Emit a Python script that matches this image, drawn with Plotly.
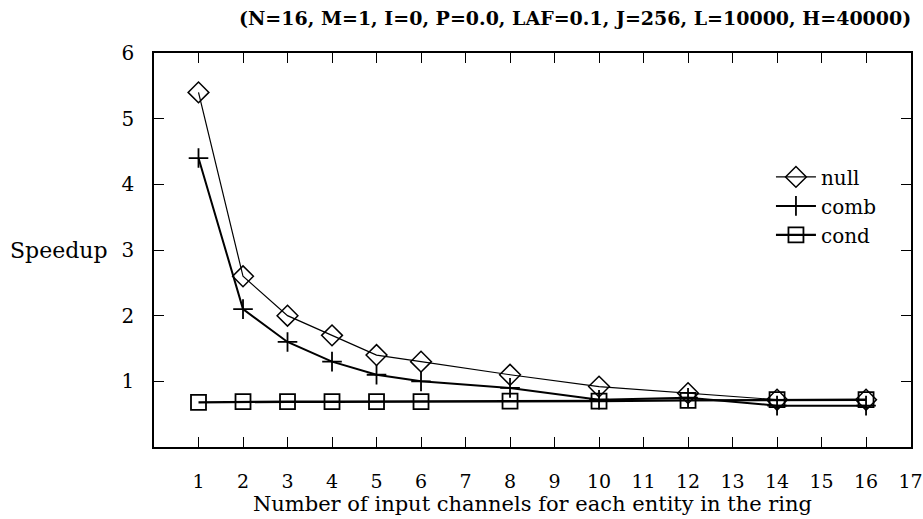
import plotly.graph_objects as go

x_vals = [1, 2, 3, 4, 5, 6, 8, 10, 12, 14, 16]
null_vals = [5.4, 2.6, 2.0, 1.7, 1.4, 1.3, 1.1, 0.92, 0.82, 0.72, 0.72]
comb_vals = [4.4, 2.1, 1.6, 1.3, 1.1, 1.0, 0.9, 0.72, 0.75, 0.63, 0.63]
cond_vals = [0.68, 0.69, 0.69, 0.69, 0.69, 0.69, 0.7, 0.7, 0.71, 0.72, 0.72]
x_ticks = list(range(1, 18))
y_ticks = [1, 2, 3, 4, 5, 6]

title_text = "(N=16, M=1, I=0, P=0.0, LAF=0.1, J=256, L=10000, H=40000)"
serif = "DejaVu Serif, Liberation Serif, serif"

fig = go.Figure()
fig.add_trace(go.Scatter(x=x_vals, y=null_vals, name="null", mode="lines+markers",
                         line=dict(color="black", width=1.2),
                         marker=dict(symbol="diamond-open", size=16, color="black", line=dict(width=1.5))))
fig.add_trace(go.Scatter(x=x_vals, y=comb_vals, name="comb", mode="lines+markers",
                         line=dict(color="black", width=2),
                         marker=dict(symbol="cross-thin-open", size=14, color="black", line=dict(width=1.8))))
fig.add_trace(go.Scatter(x=x_vals, y=cond_vals, name="cond", mode="lines+markers",
                         line=dict(color="black", width=2.4),
                         marker=dict(symbol="square-open", size=15, color="black", line=dict(width=1.8))))

fig.update_layout(
    width=923, height=519,
    margin=dict(l=154, r=12, t=53, b=72, autoexpand=False),
    paper_bgcolor="white", plot_bgcolor="white",
    font=dict(family=serif, size=20, color="black"),
    showlegend=True,
    legend=dict(x=0.815, y=0.735, xanchor="left", yanchor="top",
                bgcolor="rgba(0,0,0,0)", font=dict(size=20, family=serif),
                itemwidth=40, tracegroupgap=0),
    xaxis=dict(range=[0, 17.01], tickvals=x_ticks, ticks="inside", ticklen=10,
               tickcolor="black", tickwidth=1.2, showline=True, linecolor="black",
               linewidth=1.5, mirror="ticks", showgrid=False, zeroline=False,
               ticklabelstandoff=16, automargin=False,
               tickfont=dict(size=19),
               title=dict(text="Number of input channels for each entity in the ring",
                          font=dict(size=21), standoff=6)),
    yaxis=dict(range=[0, 6], tickvals=y_ticks, ticks="inside", ticklen=10,
               tickcolor="black", tickwidth=1.2, showline=True, linecolor="black",
               linewidth=1.5, mirror="ticks", showgrid=False, zeroline=False,
               ticklabelstandoff=14, automargin=False, tickfont=dict(size=20)),
    annotations=[
        dict(text="<b>" + title_text + "</b>", xref="paper", yref="paper",
             x=0.556, y=1.0, yshift=35, xanchor="center", yanchor="middle",
             showarrow=False, font=dict(size=19, family=serif)),
        dict(text="Speedup", xref="paper", yref="paper", x=0, xshift=-44,
             y=0.5, xanchor="right", yanchor="middle", showarrow=False,
             font=dict(size=22, family=serif)),
    ],
)

fig.write_html("out.html", config={"displayModeBar": False},
               post_script="document.body.style.margin='0';")
